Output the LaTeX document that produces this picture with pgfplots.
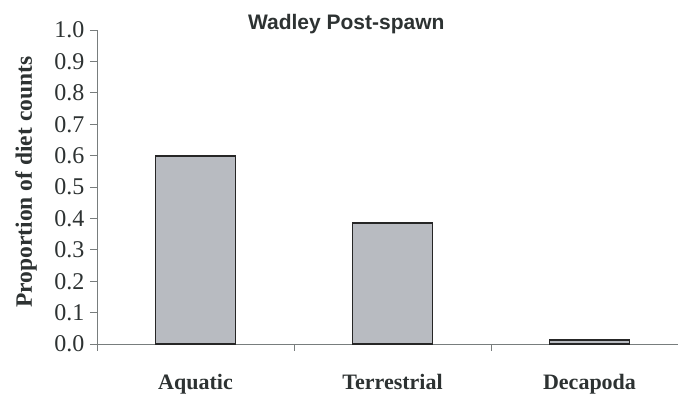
\documentclass[border=0pt]{standalone}
\usepackage{pgfplots}
\pgfplotsset{compat=1.18}
\usepackage{fontspec}
\setmainfont{Liberation Serif}
\newfontfamily\titlefont{Liberation Sans}
\definecolor{barfill}{RGB}{184,187,193}
\definecolor{txt}{RGB}{45,50,50}
\definecolor{axcol}{RGB}{120,125,125}
\begin{document}
\begin{tikzpicture}[x=1pt,y=1pt]
\begin{axis}[
  at={(97pt,59pt)}, anchor=south west,
  scale only axis, width=581pt, height=314pt,
  xmin=-0.5, xmax=2.449, ymin=0, ymax=1,
  axis lines*=left,
  axis line style={axcol, line width=0.8pt},
  ytick={0,0.1,...,1.0},
  /pgf/number format/fixed,
  /pgf/number format/fixed zerofill,
  /pgf/number format/precision=1,
  /pgf/number format/assume math mode=true,
  yticklabel style={font=\fontsize{24}{26}\selectfont, text=txt, xshift=-2pt},
  xtick={0,1,2},
  xticklabels={Aquatic,Terrestrial,Decapoda},
  xticklabel style={font=\fontsize{22}{24}\bfseries\selectfont, text=txt, yshift=-20pt},
  major x tick style={draw=none},
  minor xtick={-0.5,0.5,1.5},
  tick align=outside,
  major tick length=7pt, minor tick length=7pt,
  every tick/.style={axcol, line width=0.8pt},
  ylabel={Proportion of diet counts},
  ylabel style={at={(axis description cs:-0.122,0.105)}, anchor=west, rotate=0, font=\fontsize{23.5}{25}\bfseries\selectfont, text=txt},
  title={\titlefont\bfseries Wadley Post-spawn},
  title style={at={(axis description cs:0.429,1.0)}, anchor=center, yshift=0pt, font=\fontsize{21}{23}\selectfont, text=txt},
  clip=false,
]
\addplot[ybar, bar width=80pt, fill=barfill, draw=black!85, line width=1.5pt] coordinates {(0,0.598) (1,0.385) (2,0.012)};
\end{axis}
\pgfresetboundingbox
\useasboundingbox (0,0) rectangle (678pt,403pt);
\end{tikzpicture}
\end{document}
